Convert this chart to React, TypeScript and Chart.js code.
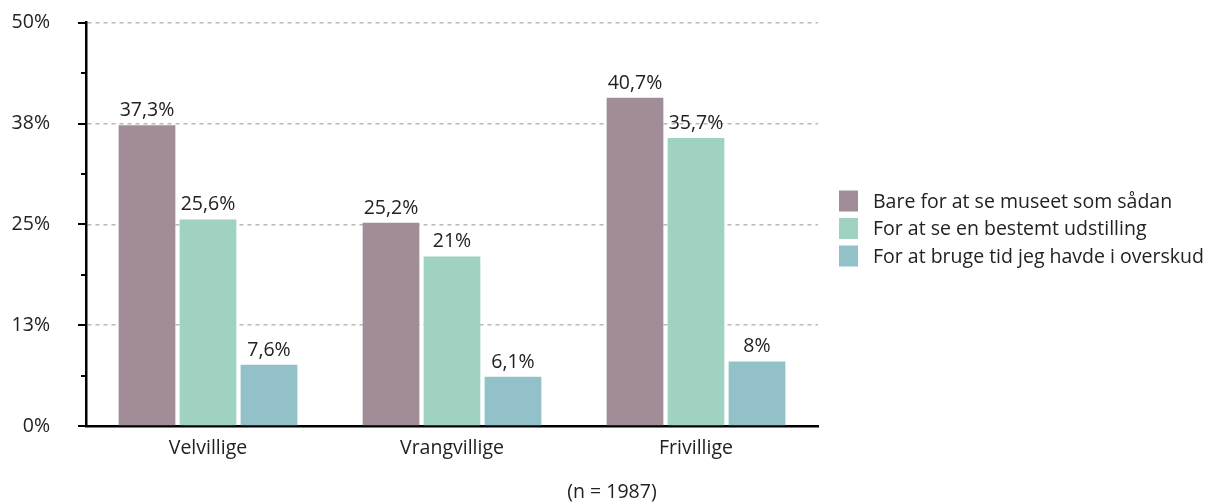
import React, { useEffect, useRef } from "react";
import { Chart, registerables } from "chart.js";

Chart.register(...registerables);

const categories = ["Velvillige", "Vrangvillige", "Frivillige"];
const seriesNames = [
  "Bare for at se museet som sådan",
  "For at se en bestemt udstilling",
  "For at bruge tid jeg havde i overskud",
];
const museetValues = [37.3, 25.2, 40.7];
const udstillingValues = [25.6, 21, 35.7];
const overskudValues = [7.6, 6.1, 8];
const seriesColors = ["#a08d98", "#9fd2c0", "#93c1c9"];
const yMax = 50;
const yStep = 6.25;
const footnote = "(n = 1987)";

const FONT = "'Open Sans', sans-serif";
const FS = 19.5;
const TEXT = "#222222";
const OFFSET = 25; // canvas is shifted up by this many px

const fmt = (v: number) => String(v).replace(".", ",") + "%";

const extrasPlugin = {
  id: "extras",
  afterDatasetsDraw(chart: any) {
    const { ctx, chartArea } = chart;
    ctx.save();
    // value labels
    ctx.font = `${FS}px ${FONT}`;
    ctx.fillStyle = TEXT;
    ctx.textAlign = "center";
    ctx.textBaseline = "bottom";
    chart.data.datasets.forEach((ds: any, i: number) => {
      const meta = chart.getDatasetMeta(i);
      meta.data.forEach((el: any, j: number) => {
        ctx.fillText(fmt(ds.data[j]), el.x, el.y - 5);
      });
    });
    // y tick marks
    const yScale = chart.scales.y;
    ctx.strokeStyle = "#000";
    ctx.lineWidth = 2;
    yScale.ticks.forEach((t: any) => {
      const y = Math.round(yScale.getPixelForValue(t.value));
      const major = Math.abs(t.value / 12.5 - Math.round(t.value / 12.5)) < 1e-6;
      ctx.beginPath();
      ctx.moveTo(chartArea.left - (major ? 8 : 5), y);
      ctx.lineTo(chartArea.left, y);
      ctx.stroke();
    });
    // legend
    const lx = chartArea.right + 21;
    ctx.textAlign = "left";
    ctx.textBaseline = "middle";
    seriesNames.forEach((name, i) => {
      const cy = OFFSET + 201 + i * 27.5;
      ctx.fillStyle = seriesColors[i];
      ctx.fillRect(lx, cy - 10.5, 19, 21);
      ctx.fillStyle = TEXT;
      ctx.fillText(name, lx + 34, cy + 1);
    });
    // footnote
    ctx.textAlign = "center";
    ctx.fillText(footnote, 612, OFFSET + 492);
    ctx.restore();
  },
};

export default function App() {
  const ref = useRef<HTMLCanvasElement>(null);
  useEffect(() => {
    if (!ref.current) return;
    const chart = new Chart(ref.current, {
      type: "bar",
      data: {
        labels: categories,
        datasets: [
          { label: seriesNames[0], data: museetValues, backgroundColor: seriesColors[0] },
          { label: seriesNames[1], data: udstillingValues, backgroundColor: seriesColors[1] },
          { label: seriesNames[2], data: overskudValues, backgroundColor: seriesColors[2] },
        ],
      },
      options: {
        responsive: false,
        animation: false,
        layout: { padding: { top: 0, right: 403, left: 0, bottom: 0 } },
        datasets: {
          bar: { categoryPercentage: 0.75, barPercentage: 0.93 },
        },
        plugins: {
          legend: { display: false },
          tooltip: { enabled: false },
        },
        scales: {
          x: {
            grid: { display: false, drawTicks: false },
            border: { display: true, color: "#000", width: 2.5 },
            ticks: {
              color: TEXT,
              font: { family: FONT, size: FS },
              padding: 11,
            },
            afterFit: (s: any) => {
              s.height = 76;
            },
          },
          y: {
            min: 0,
            max: yMax,
            grid: {
              drawTicks: false,
              color: (c: any) => {
                const v = c.tick ? c.tick.value : 0;
                const major = Math.abs(v / 12.5 - Math.round(v / 12.5)) < 1e-6;
                return major && v > 0 ? "#b8b8b8" : "rgba(0,0,0,0)";
              },
              lineWidth: 1.5,
            },
            border: { display: true, color: "#000", width: 2.5, dash: [4, 4] as any },
            ticks: {
              stepSize: yStep,
              color: TEXT,
              font: { family: FONT, size: FS },
              padding: 36,
              callback: (v: any) => {
                const n = Number(v);
                const major = Math.abs(n / 12.5 - Math.round(n / 12.5)) < 1e-6;
                return major ? Math.round(n) + "%" : "";
              },
            },
            afterFit: (s: any) => {
              s.width = 86;
            },
          },
        },
      } as any,
      plugins: [extrasPlugin],
    });
    return () => chart.destroy();
  }, []);
  return (
    <div style={{ position: "fixed", left: 0, top: -OFFSET, width: 1221, height: 502 + OFFSET, background: "#fff" }}>
      <canvas ref={ref} width={1221} height={502 + OFFSET} style={{ display: "block" }} />
    </div>
  );
}
